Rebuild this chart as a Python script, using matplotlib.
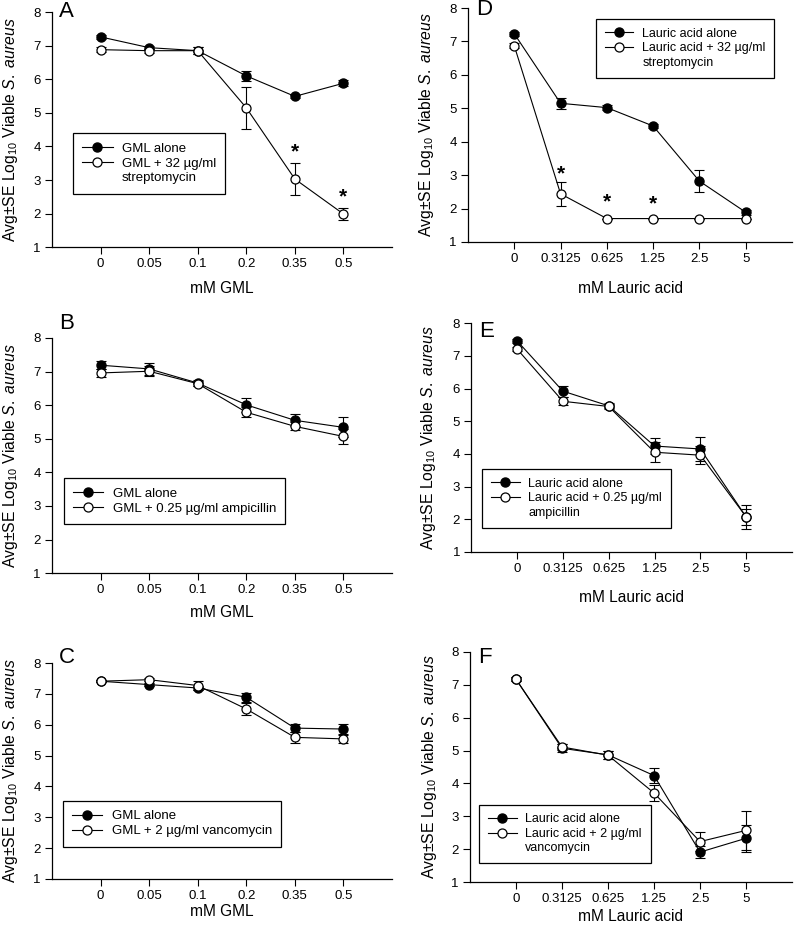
import numpy as np
import matplotlib
matplotlib.use('Agg')
import matplotlib.pyplot as plt
from matplotlib.lines import Line2D

plt.rcParams['font.family'] = ['Liberation Sans', 'DejaVu Sans']
plt.rcParams['mathtext.fontset'] = 'custom'
plt.rcParams['mathtext.rm'] = 'Liberation Sans'
plt.rcParams['mathtext.it'] = 'Liberation Sans:italic'

# x categories
gml_doses = ['0', '0.05', '0.1', '0.2', '0.35', '0.5']
la_doses = ['0', '0.3125', '0.625', '1.25', '2.5', '5']

# A: GML +/- streptomycin
a_alone = [7.26, 6.94, 6.85, 6.10, 5.49, 5.88]
a_alone_err = [0.07, 0.05, 0.10, 0.14, 0.05, 0.09]
a_combo = [6.88, 6.85, 6.85, 5.15, 3.03, 1.99]
a_combo_err = [0.07, 0.06, 0.10, 0.63, 0.49, 0.18]

# B: GML +/- ampicillin
b_alone = [7.19, 7.08, 6.66, 6.01, 5.55, 5.34]
b_alone_err = [0.12, 0.17, 0.08, 0.20, 0.18, 0.30]
b_combo = [6.96, 7.01, 6.64, 5.79, 5.37, 5.07]
b_combo_err = [0.12, 0.15, 0.08, 0.15, 0.12, 0.22]

# C: GML +/- vancomycin
c_alone = [7.41, 7.30, 7.19, 6.89, 5.89, 5.86]
c_alone_err = [0.04, 0.05, 0.05, 0.14, 0.13, 0.15]
c_combo = [7.41, 7.46, 7.27, 6.51, 5.59, 5.54]
c_combo_err = [0.04, 0.04, 0.15, 0.20, 0.17, 0.14]

# D: lauric acid +/- streptomycin
d_alone = [7.23, 5.15, 5.02, 4.47, 2.82, 1.89]
d_alone_err = [0.06, 0.17, 0.07, 0.07, 0.33, 0.08]
d_combo = [6.87, 2.44, 1.70, 1.70, 1.70, 1.70]
d_combo_err = [0.07, 0.35, 0.0, 0.0, 0.0, 0.0]

# E: lauric acid +/- ampicillin
e_alone = [7.46, 5.92, 5.47, 4.24, 4.15, 2.07]
e_alone_err = [0.07, 0.17, 0.08, 0.25, 0.38, 0.38]
e_combo = [7.21, 5.61, 5.45, 4.05, 3.96, 2.07]
e_combo_err = [0.05, 0.12, 0.08, 0.30, 0.28, 0.25]

# F: lauric acid +/- vancomycin
f_alone = [7.17, 5.07, 4.87, 4.24, 1.91, 2.33]
f_alone_err = [0.06, 0.12, 0.13, 0.22, 0.18, 0.42]
f_combo = [7.17, 5.11, 4.86, 3.71, 2.23, 2.57]
f_combo_err = [0.06, 0.10, 0.13, 0.25, 0.28, 0.60]

# significance marks: (index, y)
a_stars = [(4, 3.85), (5, 2.5)]
d_stars = [(1, 3.05), (2, 2.2), (3, 2.13)]

ylab = 'Avg±SE Log$_{10}$ Viable $S.$ $aureus$'

fig = plt.figure(figsize=(8, 9.26), dpi=100)


def panel(rect, doses, alone, alone_err, combo, combo_err, letter, letter_pos,
          xlabel, xlab_y, ylab_x, labels, leg_pos, leg_fs, stars=()):
    ax = fig.add_axes(rect)
    x = np.arange(len(doses))
    ax.errorbar(x, alone, yerr=alone_err, fmt='none', ecolor='black',
                elinewidth=0.8, capsize=3.5, capthick=0.8, zorder=2)
    ax.errorbar(x, combo, yerr=combo_err, fmt='none', ecolor='black',
                elinewidth=0.8, capsize=3.5, capthick=0.8, zorder=2)
    ax.plot(x, alone, '-o', color='black', mfc='black', mec='black',
            ms=6.5, lw=0.8, zorder=3, label=labels[0])
    ax.plot(x, combo, '-o', color='black', mfc='white', mec='black',
            ms=6.5, mew=0.9, lw=0.8, zorder=4, label=labels[1])
    for i, y in stars:
        ax.text(x[i], y, '*', ha='center', va='center', fontsize=15,
                fontweight='bold')

    ax.set_xlim(-1, 6)
    ax.set_ylim(1, 8)
    ax.set_xticks(x)
    ax.set_xticklabels(doses)
    ax.set_yticks(range(1, 9))
    ax.tick_params(labelsize=9.5, length=5, width=0.8, pad=3, direction='out')
    for s in ['top', 'right']:
        ax.spines[s].set_visible(False)
    for s in ['left', 'bottom']:
        ax.spines[s].set_linewidth(0.9)

    ax.set_xlabel(xlabel, fontsize=11.2)
    ax.xaxis.set_label_coords(0.5, xlab_y)
    ax.set_ylabel(ylab, fontsize=11.3)
    ax.yaxis.set_label_coords(ylab_x, 0.5)

    ax.text(letter_pos[0], letter_pos[1], letter, transform=ax.transAxes,
            fontsize=16, ha='left', va='top')

    handles, labs = ax.get_legend_handles_labels()
    if len(labels) > 2:
        handles.append(Line2D([], [], ls='none', marker='none'))
        labs.append(labels[2])
    leg = ax.legend(handles, labs, loc='upper left', bbox_to_anchor=leg_pos,
                    borderaxespad=0, fontsize=leg_fs, frameon=True,
                    fancybox=False, edgecolor='black', framealpha=1,
                    handlelength=2.3, handletextpad=0.7, labelspacing=0.2,
                    borderpad=0.7)
    leg.get_frame().set_linewidth(0.9)
    return ax


panel([0.065, 0.733, 0.425, 0.254], gml_doses, a_alone, a_alone_err,
      a_combo, a_combo_err, 'A', (0.02, 1.045), 'mM GML', -0.145, -0.094,
      ['GML alone', 'GML + 32 µg/ml', 'streptomycin'], (0.062, 0.485), 9.5,
      stars=a_stars)
panel([0.065, 0.381, 0.425, 0.254], gml_doses, b_alone, b_alone_err,
      b_combo, b_combo_err, 'B', (0.02, 1.105), 'mM GML', -0.136, -0.094,
      ['GML alone', 'GML + 0.25 µg/ml ampicillin'], (0.035, 0.404), 9.5)
panel([0.065, 0.0508, 0.425, 0.2332], gml_doses, c_alone, c_alone_err,
      c_combo, c_combo_err, 'C', (0.02, 1.075), 'mM GML', -0.118, -0.094,
      ['GML alone', 'GML + 2 µg/ml vancomycin'], (0.032, 0.361), 9.5)
panel([0.585, 0.7387, 0.405, 0.2526], la_doses, d_alone, d_alone_err,
      d_combo, d_combo_err, 'D', (0.025, 1.04), 'mM Lauric acid', -0.167, -0.099,
      ['Lauric acid alone', 'Lauric acid + 32 µg/ml', 'streptomycin'],
      (0.395, 0.953), 9, stars=d_stars)
panel([0.589, 0.404, 0.401, 0.247], la_doses, e_alone, e_alone_err,
      e_combo, e_combo_err, 'E', (0.025, 1.01), 'mM Lauric acid', -0.168, -0.103,
      ['Lauric acid alone', 'Lauric acid + 0.25 µg/ml', 'ampicillin'],
      (0.034, 0.362), 9)
panel([0.5875, 0.0475, 0.4025, 0.2484], la_doses, f_alone, f_alone_err,
      f_combo, f_combo_err, 'F', (0.025, 1.02), 'mM Lauric acid', -0.118, -0.096,
      ['Lauric acid alone', 'Lauric acid + 2 µg/ml', 'vancomycin'],
      (0.028, 0.336), 9)

fig.savefig('out.png', dpi=100)
